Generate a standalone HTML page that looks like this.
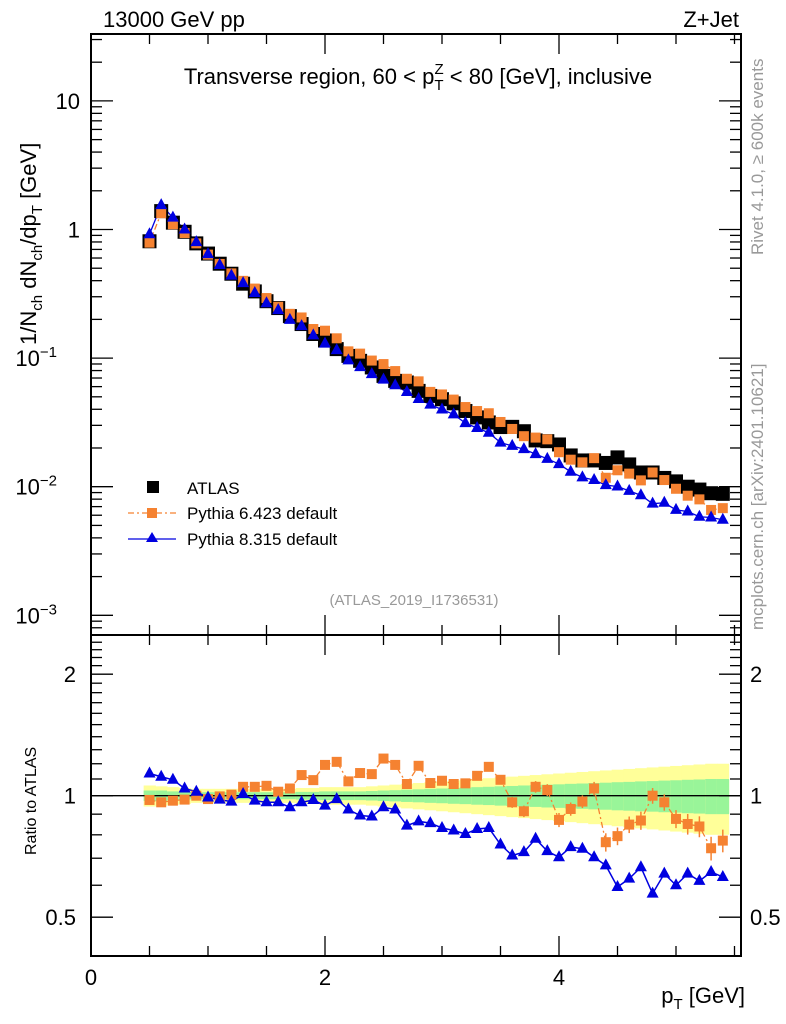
<!DOCTYPE html>
<html><head><meta charset="utf-8"><style>
body{margin:0;background:#fff}
svg{display:block;font-family:"Liberation Sans",sans-serif}
</style></head><body>
<svg id="chart" width="786" height="1024" viewBox="0 0 786 1024" xmlns="http://www.w3.org/2000/svg">
<rect width="786" height="1024" fill="#fff"/>
<g id="bands"></g>
<g id="marks"></g>
<g id="axes"></g>
<text x="103" y="27" font-size="22">13000 GeV pp</text>
<text x="739" y="27" font-size="22" text-anchor="end">Z+Jet</text>
<text x="418" y="84" font-size="22" text-anchor="middle">Transverse region, 60 &lt; p<tspan font-size="15" dy="6">T</tspan><tspan font-size="15" dx="-9" dy="-16">Z</tspan><tspan dy="10"> &lt; 80 [GeV], inclusive</tspan></text>
<text transform="translate(36,345) rotate(-90)" font-size="22">1/N<tspan font-size="15" dy="6">ch</tspan><tspan dy="-6"> dN</tspan><tspan font-size="15" dy="6">ch</tspan><tspan dy="-6">/dp</tspan><tspan font-size="15" dy="6">T</tspan><tspan dy="-6"> [GeV]</tspan></text>
<text transform="translate(36,855) rotate(-90)" font-size="16">Ratio to ATLAS</text>
<text x="745" y="1003" font-size="22" text-anchor="end">p<tspan font-size="15" dy="6">T</tspan><tspan dy="-6"> [GeV]</tspan></text>
<text transform="translate(763,255) rotate(-90)" font-size="17" fill="#999">Rivet 4.1.0, ≥ 600k events</text>
<text transform="translate(763,630) rotate(-90)" font-size="17" fill="#999">mcplots.cern.ch [arXiv:2401.10621]</text>
<text x="414" y="605" font-size="15" fill="#999" text-anchor="middle">(ATLAS_2019_I1736531)</text>
<g>
<rect x="147" y="481" width="12" height="12" fill="#000"/>
<text x="187" y="494" font-size="17">ATLAS</text>
<line x1="128" y1="513" x2="176" y2="513" stroke="#f58231" stroke-dasharray="6,3,2,3" stroke-width="1.3"/>
<rect x="147" y="508" width="10" height="10" fill="#f58231"/>
<text x="187" y="519" font-size="17">Pythia 6.423 default</text>
<line x1="128" y1="539" x2="176" y2="539" stroke="#0000e0" stroke-width="1.3"/>
<path d="M152,532 L158,542 L146,542 Z" fill="#0000e0"/>
<text x="187" y="545" font-size="17">Pythia 8.315 default</text>
</g>
</svg>
<script>
const xVals=[0.5,0.6,0.7,0.8,0.9,1.0,1.1,1.2,1.3,1.4,1.5,1.6,1.7,1.8,1.9,2.0,2.1,2.2,2.3,2.4,2.5,2.6,2.7,2.8,2.9,3.0,3.1,3.2,3.3,3.4,3.5,3.6,3.7,3.8,3.9,4.0,4.1,4.2,4.3,4.4,4.5,4.6,4.7,4.8,4.9,5.0,5.1,5.2,5.3,5.4];
const atlas=[0.81,1.39,1.13,0.96,0.78,0.65,0.542,0.453,0.379,0.330,0.277,0.245,0.212,0.184,0.154,0.137,0.1175,0.104,0.0952,0.0846,0.0727,0.0665,0.0646,0.0556,0.0508,0.0479,0.0445,0.0388,0.0346,0.0316,0.0291,0.0292,0.027,0.0229,0.0226,0.0213,0.0175,0.016,0.016,0.0153,0.0169,0.0149,0.0129,0.0129,0.0117,0.011,0.010,0.0095,0.0089,0.0088];
const ratioP6=[0.976,0.963,0.972,0.978,1.0,0.981,0.996,1.006,1.052,1.052,1.058,1.023,1.042,1.125,1.093,1.192,1.213,1.085,1.138,1.131,1.236,1.192,1.069,1.186,1.075,1.089,1.069,1.073,1.12,1.179,1.095,0.963,0.915,1.052,1.033,0.871,0.927,0.967,1.042,0.767,0.794,0.848,0.868,1.0,0.963,0.876,0.851,0.839,0.741,0.774];
const ratioP8=[1.135,1.114,1.095,1.042,1.023,0.99,0.978,0.967,1.01,0.972,0.963,0.963,0.936,0.963,0.976,0.945,0.981,0.924,0.893,0.888,0.936,0.924,0.843,0.864,0.855,0.832,0.820,0.804,0.827,0.832,0.757,0.711,0.725,0.782,0.729,0.704,0.746,0.739,0.704,0.672,0.594,0.623,0.665,0.572,0.641,0.600,0.641,0.615,0.647,0.629];
const errTot=[0.06,0.055,0.05,0.045,0.04,0.04,0.04,0.04,0.04,0.04,0.04,0.04,0.04,0.045,0.045,0.05,0.05,0.05,0.05,0.055,0.06,0.065,0.07,0.075,0.08,0.085,0.09,0.095,0.1,0.105,0.11,0.115,0.12,0.125,0.13,0.135,0.14,0.145,0.15,0.155,0.16,0.165,0.17,0.175,0.18,0.185,0.19,0.195,0.2,0.2];
const errStat=[0.03,0.03,0.025,0.022,0.02,0.02,0.02,0.02,0.02,0.02,0.02,0.02,0.02,0.022,0.022,0.025,0.025,0.025,0.025,0.027,0.03,0.032,0.035,0.037,0.04,0.042,0.045,0.047,0.05,0.052,0.055,0.057,0.06,0.062,0.065,0.067,0.07,0.072,0.075,0.077,0.08,0.082,0.085,0.087,0.09,0.092,0.095,0.097,0.1,0.1];
const p6Err=[0,0,0,0,0,0,0,0,0,0,0,0,0,0,0,0,0,0.01,0.01,0.01,0.015,0.015,0.015,0.015,0.015,0.015,0.015,0.02,0.02,0.02,0.025,0.03,0.03,0.035,0.035,0.035,0.035,0.035,0.04,0.04,0.04,0.04,0.045,0.045,0.045,0.045,0.05,0.05,0.05,0.05];
const xTicksMajor=[0,2,4];
const yMainLabels=[["10",1],["1",0],["10","-1"],["10","-2"],["10","-3"]];
const ratioLabels=[0.5,1,2];

const NS="http://www.w3.org/2000/svg";
const L=91,R=741,T=34,MB=635,RB=956;
const X=v=>L+v*117;
const Y=v=>229.5-Math.log10(v)*128.6;
const YR=v=>795.7-Math.log2(v)*121.5;
function el(tag,attrs,parent){const e=document.createElementNS(NS,tag);for(const k in attrs)e.setAttribute(k,attrs[k]);parent.appendChild(e);return e;}
const bands=document.getElementById('bands'),marks=document.getElementById('marks'),axes=document.getElementById('axes');
const half=0.05;
xVals.forEach((x,i)=>{
 const y=el('rect',{x:X(x-half),width:117*0.1+0.5,y:YR(1+errTot[i]),height:YR(1-errTot[i])-YR(1+errTot[i]),fill:'#ffff99'},bands);
 
 
 const g=el('rect',{x:X(x-half),width:117*0.1+0.5,y:YR(1+errStat[i]),height:YR(1-errStat[i])-YR(1+errStat[i]),fill:'#99f599'},bands);
 
 
});
el('line',{x1:L,x2:R,y1:YR(1),y2:YR(1),stroke:'#000','stroke-width':1.3},bands);
const p6=xVals.map((x,i)=>atlas[i]*ratioP6[i]), p8=xVals.map((x,i)=>atlas[i]*ratioP8[i]);
const l6=el('polyline',{points:xVals.map((x,i)=>X(x)+','+Y(p6[i])).join(' '),fill:'none',stroke:'#f58231','stroke-dasharray':'6,3,2,3','stroke-width':1.3},marks);


const l8=el('polyline',{points:xVals.map((x,i)=>X(x)+','+Y(p8[i])).join(' '),fill:'none',stroke:'#0000e0','stroke-width':1.3},marks);


xVals.forEach((x,i)=>{
 const a=el('rect',{x:X(x)-7,y:Y(atlas[i])-7,width:14,height:14,fill:'#000'},marks);
 
 
});
xVals.forEach((x,i)=>{
 const o=el('rect',{x:X(x)-5,y:Y(p6[i])-5,width:10,height:10,fill:'#f58231'},marks);
 
 
});
xVals.forEach((x,i)=>{
 const cx=X(x),cy=Y(p8[i]);
 const t=el('path',{d:`M${cx},${cy-7} L${cx+6},${cy+4} L${cx-6},${cy+4} Z`,fill:'#0000e0'},marks);
 
 
});
const r6=el('polyline',{points:xVals.map((x,i)=>X(x)+','+YR(ratioP6[i])).join(' '),fill:'none',stroke:'#f58231','stroke-dasharray':'6,3,2,3','stroke-width':1.3},marks);


const r8=el('polyline',{points:xVals.map((x,i)=>X(x)+','+YR(ratioP8[i])).join(' '),fill:'none',stroke:'#0000e0','stroke-width':1.5},marks);


xVals.forEach((x,i)=>{
 const cx=X(x),cy=YR(ratioP6[i]);
 if(p6Err[i]>0){el('line',{x1:cx,x2:cx,y1:YR(ratioP6[i]+p6Err[i]),y2:YR(ratioP6[i]-p6Err[i]),stroke:'#f58231','stroke-width':1.5},marks);}
 const o=el('rect',{x:cx-5,y:cy-5,width:10,height:10,fill:'#f58231'},marks);
 
 
});
xVals.forEach((x,i)=>{
 const cx=X(x),cy=YR(ratioP8[i]);
 const t=el('path',{d:`M${cx},${cy-7} L${cx+6},${cy+4} L${cx-6},${cy+4} Z`,fill:'#0000e0'},marks);
 
 
});
el('rect',{x:L,y:T,width:R-L,height:MB-T,fill:'none',stroke:'#000','stroke-width':2},axes);
el('rect',{x:L,y:MB,width:R-L,height:RB-MB,fill:'none',stroke:'#000','stroke-width':2},axes);
for(let v=0;v<=5.5;v+=0.5){
 const maj=xTicksMajor.includes(v),len=maj?20:10;
 [[T,1],[MB,-1],[MB,1],[RB,-1]].forEach(([y0,d])=>el('line',{x1:X(v),x2:X(v),y1:y0,y2:y0+d*len,stroke:'#000','stroke-width':1.3},axes));
}
xTicksMajor.forEach(v=>{
 const t=el('text',{x:X(v),y:985,'font-size':22,'text-anchor':'middle'},axes);t.textContent=v;
 
 
});
for(let e=-4;e<=1;e++){for(let m=1;m<10;m++){const v=m*Math.pow(10,e),y=Y(v);if(y<T||y>MB)continue;const len=m==1?22:11;
 el('line',{x1:L,x2:L+len,y1:y,y2:y,stroke:'#000','stroke-width':1.3},axes);el('line',{x1:R,x2:R-len,y1:y,y2:y,stroke:'#000','stroke-width':1.3},axes);}}
yMainLabels.forEach(([b,ex])=>{
 const v=Math.pow(10,+ex);const t=el('text',{x:80,y:Y(v)+8,'font-size':22,'text-anchor':'end'},axes);
 
 
 if(ex==1||ex==0){t.textContent=b;}else{t.setAttribute('x',57);t.textContent=b;const s=el('tspan',{'font-size':15,dy:-9},t);s.textContent='−'+String(ex).slice(1);}
});
const rt=[0.4,0.5,0.6,0.7,0.8,0.9,1,1.1,1.2,1.3,1.4,1.5,1.6,1.7,1.8,1.9,2,2.1,2.2,2.3,2.4];
rt.forEach(v=>{const y=YR(v);if(y<MB||y>RB)return;const len=ratioLabels.includes(v)?22:11;
 el('line',{x1:L,x2:L+len,y1:y,y2:y,stroke:'#000','stroke-width':1.3},axes);el('line',{x1:R,x2:R-len,y1:y,y2:y,stroke:'#000','stroke-width':1.3},axes);});
ratioLabels.forEach(v=>{
 const a=el('text',{x:76,y:YR(v)+8,'font-size':22,'text-anchor':'end'},axes);a.textContent=v;
 
 
 const b=el('text',{x:750,y:YR(v)+8,'font-size':22},axes);b.textContent=v;
 
 
});
</script>
</body></html>
